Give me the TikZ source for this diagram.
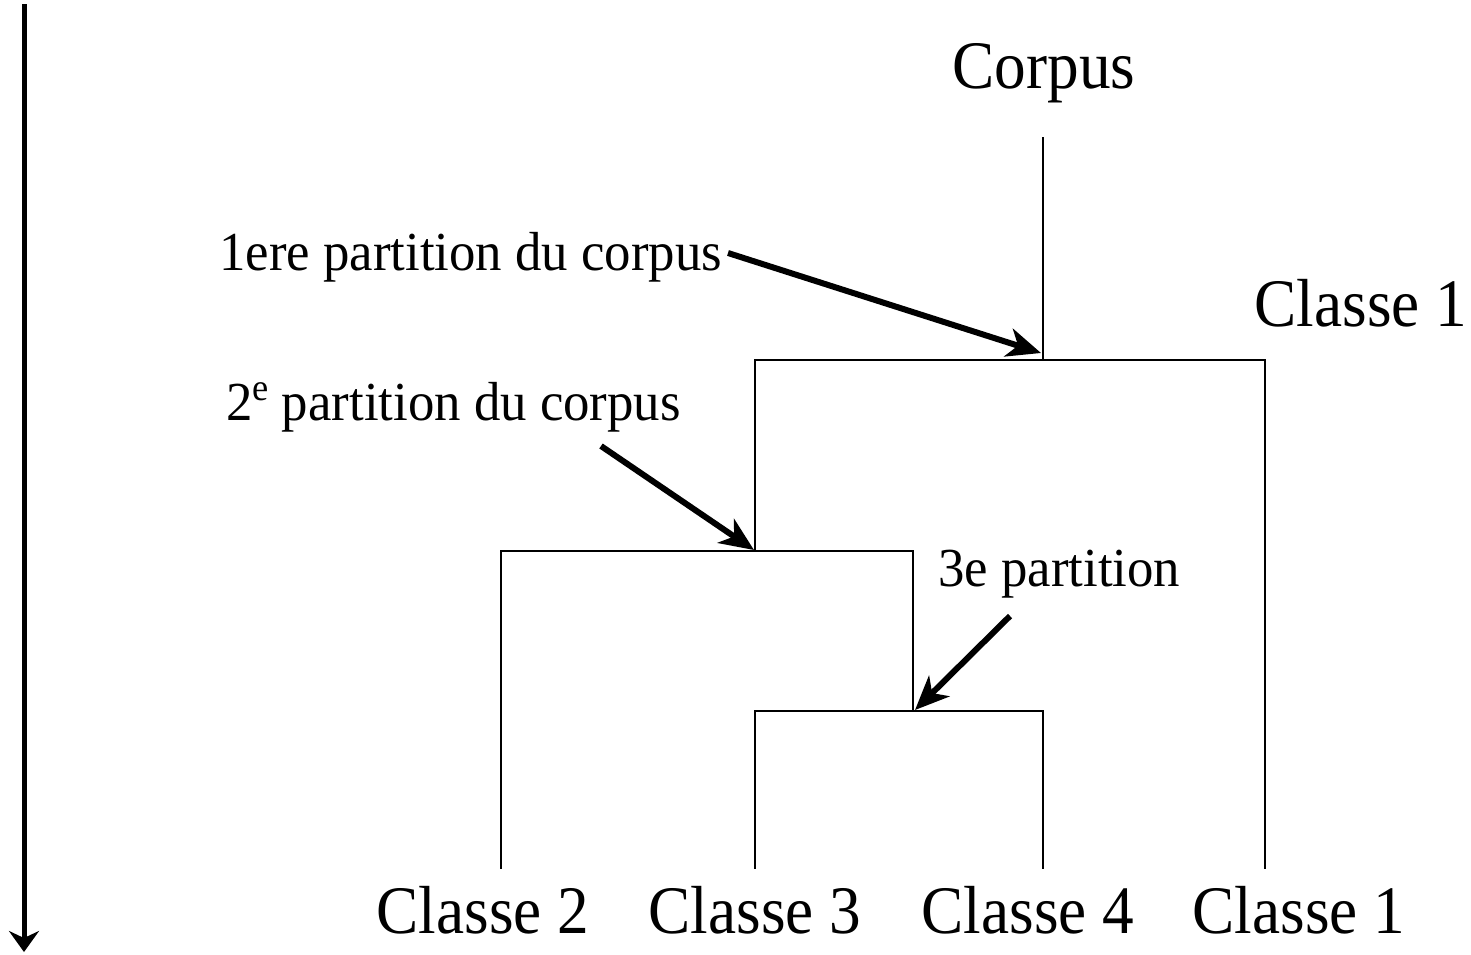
\documentclass[tikz,border=0pt]{standalone}
\usepackage{fontspec}
\setmainfont{Liberation Serif}
\usetikzlibrary{arrows.meta}
\tikzset{
  big/.style={inner sep=0pt, anchor=base, font=\fontsize{68}{80}\selectfont, xscale=0.93, transform shape},
  small/.style={inner sep=0pt, anchor=base west, font=\fontsize{55}{66}\selectfont, xscale=0.96, transform shape},
  tree/.style={line width=2.4pt, line cap=rect},
  pointer/.style={line width=6pt, -{Stealth[length=34pt, width=29pt, inset=10pt]}},
  axis/.style={line width=5pt, -{Stealth[length=21pt, width=30pt, inset=7pt]}}
}
\begin{document}
\begin{tikzpicture}[x=1pt, y=-1pt]
\useasboundingbox (0,0) rectangle (1471,954);
% texts
\node[big] (corpus) at (1044,88) {Corpus};
\node[big] (c1top) at (1361,326) {Classe 1};
\node[big] (c2) at (483,933) {Classe 2};
\node[big] (c3) at (755,933) {Classe 3};
\node[big] (c4) at (1028,933) {Classe 4};
\node[big] (c1) at (1299,933) {Classe 1};
\node[small] (t1) at (219,270) {1ere partition du corpus};
\node[small] (t2) at (226,420) {2\raisebox{0.36em}{\fontsize{38}{44}\selectfont e} partition du corpus};
\node[small] (t3) at (938,586) {3e partition};
% tree joints
\coordinate (top) at (1043,138);
\coordinate (j1) at (1043,360);
\coordinate (j1l) at (755,360);
\coordinate (j1r) at (1265,360);
\coordinate (j2) at (755,551);
\coordinate (j2l) at (501,551);
\coordinate (j2r) at (913,551);
\coordinate (j3) at (913,711);
\coordinate (j3l) at (755,711);
\coordinate (j3r) at (1043,711);
\coordinate (l2) at (501,868);
\coordinate (l3) at (755,868);
\coordinate (l4) at (1043,868);
\coordinate (l1) at (1265,868);
\draw[tree] (top) -- (j1);
\draw[tree] (j1l) -- (j1r);
\draw[tree] (j1r) -- (l1);
\draw[tree] (j1l) -- (j2);
\draw[tree] (j2l) -- (j2r);
\draw[tree] (j2l) -- (l2);
\draw[tree] (j2r) -- (j3);
\draw[tree] (j3l) -- (j3r);
\draw[tree] (j3l) -- (l3);
\draw[tree] (j3r) -- (l4);
% pointers
\coordinate (a1s) at (728,253);
\coordinate (a1e) at (1041,353);
\coordinate (a2s) at (601,446);
\coordinate (a2e) at (754,550);
\coordinate (a3s) at (1010,616);
\coordinate (a3e) at (915,710);
\draw[pointer] (a1s) -- (a1e);
\draw[pointer] (a2s) -- (a2e);
\draw[pointer] (a3s) -- (a3e);
% time axis
\coordinate (ax1) at (24,4);
\coordinate (ax2) at (24,952);
\draw[axis] (ax1) -- (ax2);
\end{tikzpicture}
\end{document}
